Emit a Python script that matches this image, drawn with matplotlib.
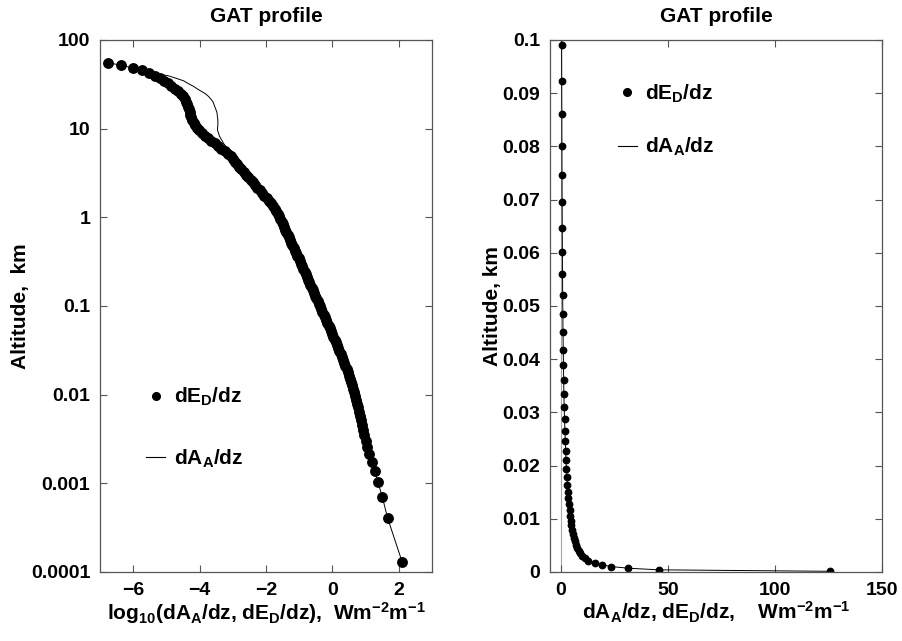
import matplotlib
matplotlib.use("Agg")
import matplotlib.pyplot as plt
import numpy as np
from matplotlib.lines import Line2D
from matplotlib.ticker import FixedLocator, FuncFormatter, NullLocator

# altitude grid (km)
altitude_km = [
    0.00013, 0.00041, 0.00071, 0.00103, 0.00137, 0.00174, 0.00213, 0.00255, 0.003, 0.00348,
    0.004, 0.00455, 0.00514, 0.00577, 0.00644, 0.00717, 0.00794, 0.00877, 0.00965, 0.0106,
    0.01161, 0.01269, 0.01385, 0.01509, 0.01642, 0.01784, 0.01936, 0.02099, 0.02273, 0.02459,
    0.02658, 0.02871, 0.03099, 0.03343,
    0.03604, 0.03884, 0.04182, 0.04502, 0.04845, 0.05211, 0.05603, 0.06022, 0.06471, 0.06951,
    0.07464, 0.08014, 0.08602, 0.09231, 0.09904, 0.10625, 0.11396, 0.1222, 0.13103, 0.14047,
    0.15058, 0.16139, 0.17296, 0.18533, 0.19858, 0.21275, 0.22791, 0.24413, 0.2615, 0.28007,
    0.29994, 0.32121, 0.34397, 0.36832,
    0.3944, 0.4223, 0.4521, 0.484, 0.5181, 0.5547, 0.5938, 0.6356, 0.6804, 0.7283,
    0.7795, 0.8344, 0.893, 0.9558, 1.023, 1.095, 1.172, 1.254, 1.342, 1.436,
    1.537, 1.645, 1.761, 1.884, 2.016, 2.158, 2.309, 2.471, 2.644, 2.829,
    3.028, 3.240, 3.467, 3.710,
    3.974, 4.252, 4.549, 4.868, 5.209, 5.573, 5.963, 6.381, 6.828, 7.305,
    7.817, 8.364, 8.949, 9.576, 10.246, 10.963, 11.731, 12.552, 13.430, 14.371,
    15.377, 16.453, 17.605, 18.837, 20.156, 21.567, 23.076, 24.692, 26.420, 28.269,
    30.248, 32.366, 34.631, 37.055,
    39.65, 42.43, 45.40, 48.57, 51.97, 55.61,
]

# log10(dE_D/dz), W m^-2 m^-1
dEdz_log = [
    2.10, 1.66, 1.50, 1.37, 1.28, 1.20, 1.11, 1.05, 1.00, 0.96,
    0.92, 0.88, 0.85, 0.82, 0.79, 0.76, 0.73, 0.70, 0.67, 0.65,
    0.62, 0.59, 0.56, 0.53, 0.49, 0.46, 0.43, 0.39, 0.36, 0.32,
    0.29, 0.25, 0.21, 0.17,
    0.14, 0.10, 0.07, 0.03, -0.01, -0.04, -0.08, -0.11, -0.15, -0.19,
    -0.22, -0.26, -0.30, -0.33, -0.37, -0.41, -0.44, -0.48, -0.52, -0.55,
    -0.59, -0.62, -0.66, -0.70, -0.73, -0.77, -0.81, -0.84, -0.88, -0.92,
    -0.95, -0.99, -1.02, -1.06,
    -1.10, -1.13, -1.17, -1.21, -1.24, -1.28, -1.32, -1.35, -1.39, -1.43,
    -1.46, -1.50, -1.53, -1.57, -1.61, -1.65, -1.69, -1.74, -1.79, -1.85,
    -1.91, -1.98, -2.05, -2.12, -2.19, -2.26, -2.33, -2.40, -2.46, -2.53,
    -2.60, -2.67, -2.74, -2.80,
    -2.86, -2.92, -2.98, -3.05, -3.14, -3.24, -3.35, -3.45, -3.55, -3.66,
    -3.76, -3.85, -3.93, -4.01, -4.08, -4.13, -4.18, -4.22, -4.25, -4.28,
    -4.30, -4.32, -4.34, -4.37, -4.40, -4.44, -4.49, -4.57, -4.66, -4.75,
    -4.85, -4.96, -5.07, -5.18,
    -5.33, -5.51, -5.74, -6.02, -6.38, -6.76,
]

# log10(dA_A/dz): same as dE_D/dz except between ~5.5 and ~40 km
dAdz_split_start = 107
dAdz_log_split = [
    -3.15, -3.16, -3.22, -3.28, -3.32, -3.37, -3.41, -3.43, -3.46, -3.46,
    -3.45, -3.45, -3.45, -3.46, -3.47, -3.48, -3.51, -3.54, -3.57, -3.60,
    -3.66, -3.73, -3.82, -3.95, -4.08, -4.20, -4.35, -4.48, -4.71, -4.96,
]

left_yticks = [0.0001, 0.001, 0.01, 0.1, 1, 10, 100]
left_xticks = [-6, -4, -2, 0, 2]
right_yticks = [0, 0.01, 0.02, 0.03, 0.04, 0.05, 0.06, 0.07, 0.08, 0.09, 0.1]
right_xticks = [0, 50, 100, 150]

plt.rcParams.update({
    "font.family": ["Liberation Sans", "DejaVu Sans"],
    "font.weight": "bold",
    "font.size": 15,
    "axes.labelweight": "bold",
    "axes.titleweight": "bold",
    "mathtext.fontset": "custom",
    "mathtext.rm": "Liberation Sans:bold",
    "mathtext.it": "Liberation Sans:bold",
    "mathtext.bf": "Liberation Sans:bold",
    "mathtext.default": "rm",
})

z = np.array(altitude_km)
dE = np.array(dEdz_log)
dA = dE.copy()
dA[dAdz_split_start:dAdz_split_start + len(dAdz_log_split)] = dAdz_log_split

fig = plt.figure(figsize=(9.02, 6.41), dpi=100)
ax1 = fig.add_axes([100 / 902, 69 / 641, 332 / 902, 532 / 641])
ax2 = fig.add_axes([550 / 902, 69 / 641, 332 / 902, 532 / 641])

spine_col = "#555555"


def style(ax):
    ax.tick_params(direction="in", top=True, right=True, length=5, width=0.8,
                   color=spine_col, labelsize=14, pad=7)
    for s in ax.spines.values():
        s.set_color(spine_col)
        s.set_linewidth(0.9)
    ax.set_title("GAT profile", fontsize=15, pad=13)


# left: log10 values against log altitude
ax1.plot(dE, z, "o", color="k", ms=6.8, mec="k")
ax1.plot(dA, z, "-", color="k", lw=0.7)
ax1.set_yscale("log")
ax1.set_xlim(-7, 3)
ax1.set_ylim(1e-4, 100)
ax1.xaxis.set_major_locator(FixedLocator(left_xticks))
ax1.yaxis.set_major_locator(FixedLocator(left_yticks))
ax1.yaxis.set_minor_locator(NullLocator())
ax1.yaxis.set_major_formatter(FuncFormatter(lambda v, p: "%g" % v))
style(ax1)
ax1.set_xlabel(r"log$_{10}$(dA$_A$/dz, dE$_D$/dz),  Wm$^{-2}$m$^{-1}$", labelpad=1)
ax1.set_ylabel("Altitude,  km", labelpad=1)

# right: linear values near the ground
ax2.axvline(0, color="0.65", lw=0.8, zorder=0)
ax2.plot(10 ** dE, z, "o", color="k", ms=4.6, mec="k")
ax2.plot(10 ** dA, z, "-", color="k", lw=0.7)
ax2.set_xlim(-5, 150)
ax2.set_ylim(0, 0.1)
ax2.xaxis.set_major_locator(FixedLocator(right_xticks))
ax2.yaxis.set_major_locator(FixedLocator(right_yticks))
ax2.yaxis.set_major_formatter(FuncFormatter(lambda v, p: "%g" % v))
style(ax2)
ax2.set_xlabel(r"dA$_A$/dz, dE$_D$/dz,    Wm$^{-2}$m$^{-1}$", labelpad=1)
ax2.set_ylabel("Altitude, km", labelpad=0)

handles = [Line2D([], [], ls="none", marker="o", color="k", ms=5.5),
           Line2D([], [], ls="-", color="k", lw=0.8)]
labels = [r"dE$_D$/dz", r"dA$_A$/dz"]
for ax, anchor, sp in ((ax1, (0.14, 0.350), 1.9), (ax2, (0.205, 0.92), 1.5)):
    ax.legend(handles, labels, loc="upper left", bbox_to_anchor=anchor,
              frameon=False, handlelength=0.9, handletextpad=0.4,
              labelspacing=sp, borderpad=0, borderaxespad=0, fontsize=15)

fig.savefig("out.png", dpi=100)
